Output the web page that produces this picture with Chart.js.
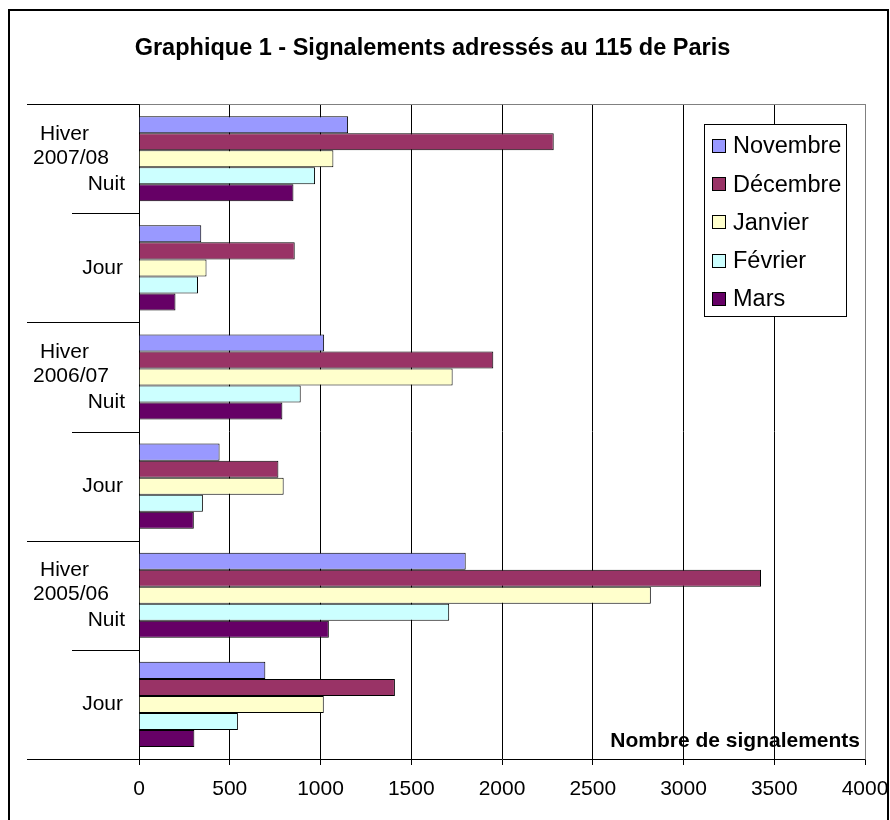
<!DOCTYPE html>
<html>
<head>
<meta charset="utf-8">
<script src="https://cdn.jsdelivr.net/npm/chart.js@4/dist/chart.umd.min.js"></script>
<style>
  html, body { margin: 0; padding: 0; background: #fff; }
  #wrap { width: 890px; height: 820px; }
</style>
</head>
<body>
<div id="wrap"><canvas id="chart" width="890" height="820"></canvas></div>
<script>
// categories, top to bottom
const winters = ['2007/08', '2006/07', '2005/06'];
const periods = ['Nuit', 'Jour'];
const categories = ['Hiver 2007/08 Nuit', 'Jour', 'Hiver 2006/07 Nuit', 'Jour', 'Hiver 2005/06 Nuit', 'Jour'];

// series (signalements par mois)
const months = ['Novembre', 'Décembre', 'Janvier', 'Février', 'Mars'];
const novembre = [1152, 343, 1020, 444, 1800, 696];
const decembre = [2285, 858, 1952, 768, 3427, 1410];
const janvier  = [1071, 372, 1728, 797, 2820, 1018];
const fevrier  = [970, 325, 891, 352, 1709, 545];
const mars     = [851, 201, 790, 302, 1046, 305];
const colors = ['#9999FF', '#993366', '#FFFFCC', '#CCFFFF', '#660066'];

const axisTicks = [0, 500, 1000, 1500, 2000, 2500, 3000, 3500, 4000];

const FONT = '"Liberation Sans", Arial, sans-serif';

const series = [novembre, decembre, janvier, fevrier, mars];
const datasets = series.map((vals, i) => ({
  label: months[i],
  data: vals,
  backgroundColor: colors[i],
  borderColor: '#000',
  borderWidth: 1,
  categoryPercentage: 0.78,
  barPercentage: 1
}));

// frame, category labels, long/short ticks, legend box, axis title
const decor = {
  id: 'decor',
  beforeDraw(chart) {
    const ctx = chart.ctx;
    ctx.save();
    ctx.fillStyle = '#fff';
    ctx.fillRect(0, 0, chart.width, chart.height);
    ctx.restore();
  },
  afterDatasetsDraw(chart) {
    const ctx = chart.ctx;
    const a = chart.chartArea;
    const y = chart.scales.y;
    ctx.save();

    // plot border (grey) top and right
    ctx.strokeStyle = '#808080';
    ctx.lineWidth = 1;
    ctx.beginPath();
    ctx.moveTo(Math.round(a.left) + 0.5, Math.round(a.top) + 0.5);
    ctx.lineTo(Math.round(a.right) + 0.5, Math.round(a.top) + 0.5);
    ctx.lineTo(Math.round(a.right) + 0.5, Math.round(a.bottom) + 0.5);
    ctx.stroke();

    // category ticks
    ctx.strokeStyle = '#000';
    for (let k = 0; k <= categories.length; k++) {
      const py = Math.round(y.getPixelForValue(k - 0.5)) + 0.5;
      const x0 = (k % 2 === 0) ? 27 : 72;
      ctx.beginPath();
      ctx.moveTo(x0, py);
      ctx.lineTo(Math.round(a.left) + 0.5, py);
      ctx.stroke();
    }

    // category labels
    ctx.fillStyle = '#000';
    ctx.font = '21px ' + FONT;
    ctx.textBaseline = 'middle';
    categories.forEach((c, i) => {
      const py = y.getPixelForValue(i);
      if (i % 2 === 0) {
        ctx.textAlign = 'left';
        ctx.fillText('Hiver', 40, py - 25);
        ctx.fillText(winters[i / 2], 33, py - 1);
        ctx.textAlign = 'right';
        ctx.fillText(periods[0], 125, py + 25);
      } else {
        ctx.textAlign = 'right';
        ctx.fillText(periods[1], 123, py);
      }
    });

    // axis title inside plot
    ctx.font = 'bold 21px ' + FONT;
    ctx.textAlign = 'right';
    ctx.textBaseline = 'alphabetic';
    ctx.fillText('Nombre de signalements', a.right - 5, a.bottom - 12);

    // legend
    const lx = 704.5, ly = 124.5, lw = 142, lh = 192;
    ctx.fillStyle = '#fff';
    ctx.fillRect(lx, ly, lw, lh);
    ctx.strokeStyle = '#000';
    ctx.strokeRect(lx, ly, lw, lh);
    ctx.font = '23.5px ' + FONT;
    ctx.textAlign = 'left';
    ctx.textBaseline = 'middle';
    chart.data.datasets.forEach((ds, i) => {
      const cy = 146 + i * 38.2;
      ctx.fillStyle = ds.backgroundColor;
      ctx.fillRect(712.5, Math.round(cy) - 6.5, 13, 13);
      ctx.strokeStyle = '#000';
      ctx.strokeRect(712.5, Math.round(cy) - 6.5, 13, 13);
      ctx.fillStyle = '#000';
      ctx.fillText(ds.label, 733, cy + 1);
    });

    // outer frame
    ctx.strokeStyle = '#000';
    ctx.lineWidth = 2;
    ctx.strokeRect(9, 10, 879, 900);
    ctx.restore();
  }
};

new Chart(document.getElementById('chart'), {
  type: 'bar',
  data: { labels: categories, datasets: datasets },
  options: {
    indexAxis: 'y',
    responsive: false,
    animation: false,
    layout: { padding: { left: 0, right: 25, top: 0, bottom: 0 } },
    plugins: {
      legend: { display: false },
      tooltip: { enabled: false },
      title: {
        display: true,
        text: 'Graphique 1 - Signalements adressés au 115 de Paris',
        color: '#000',
        font: { family: FONT, size: 23.5, weight: 'bold' },
        padding: { top: 34, bottom: 42 }
      }
    },
    scales: {
      x: {
        type: 'linear',
        min: 0,
        max: 4000,
        afterBuildTicks(scale) { scale.ticks = axisTicks.map(v => ({ value: v })); },
        afterFit(scale) {
          scale.height = 61;
          scale.paddingLeft = 0;
          scale.paddingRight = 0;
        },
        grid: {
          color: ctx => (ctx.tick && ctx.tick.value === 4000) ? '#808080' : '#000',
          lineWidth: 1,
          tickLength: 6,
          tickColor: '#000'
        },
        border: { color: '#000', width: 1 },
        ticks: {
          color: '#000',
          padding: 12,
          font: { family: FONT, size: 21 },
          maxRotation: 0,
          callback: v => String(v)
        }
      },
      y: {
        afterFit(scale) { scale.width = 139; },
        grid: { display: false },
        border: { color: '#000', width: 1 },
        ticks: { display: false }
      }
    }
  },
  plugins: [decor]
});
</script>
</body>
</html>
